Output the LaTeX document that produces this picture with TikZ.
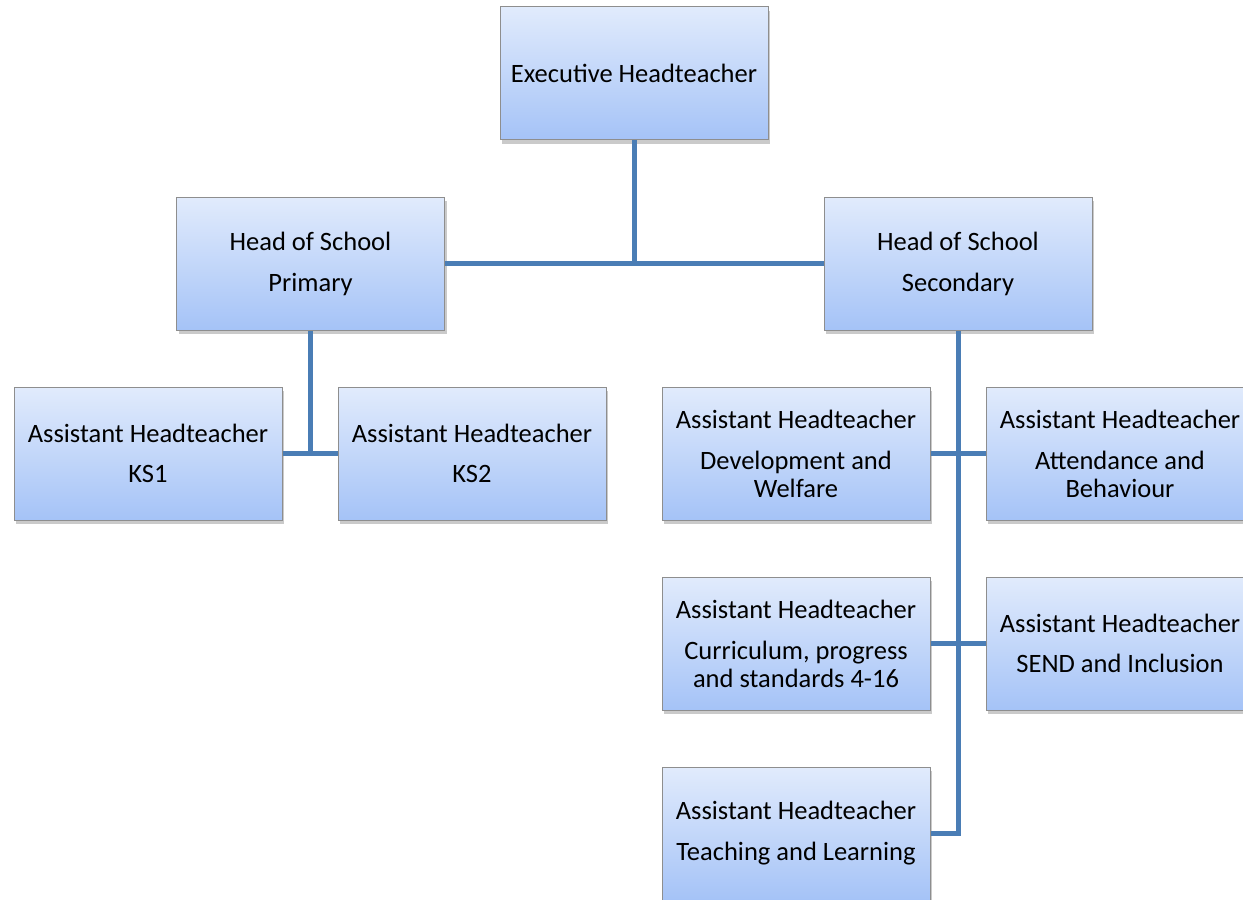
\documentclass[tikz,border=0pt]{standalone}
\usepackage{fontspec}
\setmainfont{Carlito}
\usetikzlibrary{shadows}
\definecolor{boxtop}{HTML}{E1EBFC}
\definecolor{boxbot}{HTML}{A5C3F7}
\definecolor{boxline}{HTML}{8E8E8E}
\definecolor{connblue}{HTML}{4A7DB5}
\tikzset{
  orgbox/.style={rectangle, draw=boxline, line width=1pt,
    top color=boxtop, bottom color=boxbot,
    minimum width=268pt, minimum height=133pt, inner sep=0pt,
    align=center, font=\fontsize{26.5}{28}\selectfont,
    drop shadow={shadow xshift=2pt, shadow yshift=-4pt, opacity=0.35, fill=black!60}},
  conn/.style={draw=connblue, line width=5pt}
}
\begin{document}
\begin{tikzpicture}[x=1pt,y=-1pt]
\useasboundingbox (0,0) rectangle (1243,900);
\node[orgbox] (exec) at (634,73) {Executive Headteacher};
\node[orgbox] (hp) at (310.5,263.5) {Head of School\\[13pt]Primary};
\node[orgbox] (hs) at (958,263.5) {Head of School\\[13pt]Secondary};
\node[orgbox] (ks1) at (148,453.5) {Assistant Headteacher\\[12pt]KS1};
\node[orgbox] (ks2) at (472,453.5) {Assistant Headteacher\\[12pt]KS2};
\node[orgbox] (dw) at (796,453.5) {Assistant Headteacher\\[13pt]Development and\\Welfare};
\node[orgbox] (ab) at (1120,453.5) {Assistant Headteacher\\[13pt]Attendance and\\Behaviour};
\node[orgbox] (cp) at (796,643.5) {Assistant Headteacher\\[13pt]Curriculum, progress\\and standards 4-16};
\node[orgbox] (si) at (1120,643.5) {Assistant Headteacher\\[12pt]SEND and Inclusion};
\node[orgbox] (tl) at (796,833.5) {Assistant Headteacher\\[13pt]Teaching and Learning};
\draw[conn] (exec.south) -- (exec.south |- hp.east);
\draw[conn] (hp.east) -- (hs.west);
\draw[conn] (hp.south) -- (hp.south |- ks1.east);
\draw[conn] (ks1.east) -- (ks2.west);
\draw[conn] (hs.south) |- (tl.east);
\draw[conn] (dw.east) -- (ab.west);
\draw[conn] (cp.east) -- (si.west);
\end{tikzpicture}
\end{document}
